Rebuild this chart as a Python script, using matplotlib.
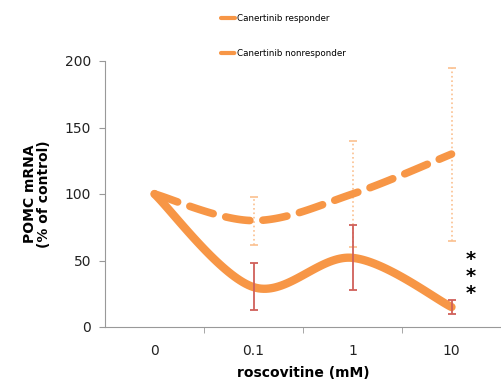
import matplotlib
matplotlib.use("Agg")
import matplotlib.pyplot as plt
import numpy as np

# datos
categorias = ["0", "0.1", "1", "10"]
respondedor = [100, 30, 52, 15]
resp_err_inf = [0, 17, 24, 5]
resp_err_sup = [0, 18, 25, 5]
no_respondedor = [100, 80, 100, 130]
nores_err = [0, 18, 40, 65]


def suavizar(y, n=40):
    # curva suavizada tipo Excel (Catmull-Rom) entre los puntos
    x = np.arange(len(y), dtype=float)
    p = np.column_stack([x, np.array(y, dtype=float)])
    p = np.vstack([p[0], p, p[-1]])
    xs, ys = [], []
    t = np.linspace(0, 1, n)
    for i in range(1, len(p) - 2):
        p0, p1, p2, p3 = p[i - 1], p[i], p[i + 1], p[i + 2]
        c1 = p1 + (p2 - p0) / 6
        c2 = p2 - (p3 - p1) / 6
        b = ((1 - t) ** 3)[:, None] * p1 + (3 * (1 - t) ** 2 * t)[:, None] * c1 \
            + (3 * (1 - t) * t ** 2)[:, None] * c2 + (t ** 3)[:, None] * p2
        xs.extend(b[:, 0])
        ys.extend(b[:, 1])
    return np.array(xs), np.array(ys)


naranja = "#F79646"
fig = plt.figure(figsize=(5.01, 3.85), dpi=100)
ax = fig.add_axes([105 / 501, 1 - 327 / 385, 396 / 501, 266 / 385])

x = np.arange(len(categorias))

# barras de error del no respondedor (punteadas)
eb = ax.errorbar(x[1:], no_respondedor[1:], yerr=nores_err[1:], fmt="none",
                 ecolor="#FBC08F", elinewidth=1.2, capsize=3, capthick=1.2)
eb[2][0].set_linestyle(":")

xs, ys = suavizar(no_respondedor)
linea_nr, = ax.plot(xs, ys, color=naranja, lw=5.5, ls=(0, (3.2, 1.7)),
                    solid_capstyle="round", dash_capstyle="round", zorder=3)

xs, ys = suavizar(respondedor)
linea_r, = ax.plot(xs, ys, color=naranja, lw=6, solid_capstyle="round", zorder=3)

ax.errorbar(x[1:], respondedor[1:], yerr=[resp_err_inf[1:], resp_err_sup[1:]],
            fmt="none", ecolor="#D0605A", elinewidth=1.3, capsize=3, capthick=1.3,
            zorder=4)

ax.text(3.19, 58, "*\n*\n*", ha="center", va="top", fontsize=14, linespacing=0.88,
        color="black", fontweight="bold")

ax.set_xlim(-0.5, 3.5)
ax.set_ylim(0, 200)
ax.set_yticks([0, 50, 100, 150, 200])
ax.set_xticks(x)
ax.set_xticklabels(categorias)
ax.set_xticks([0.5, 1.5, 2.5], minor=True)
ax.tick_params(axis="x", which="major", length=0, pad=12, labelsize=10, colors="#222222")
ax.tick_params(axis="x", which="minor", length=4, direction="out", color="#999999")
ax.tick_params(axis="y", length=4, direction="out", color="#999999", labelsize=10,
               labelcolor="#222222", pad=6)
for s in ["top", "right"]:
    ax.spines[s].set_visible(False)
for s in ["left", "bottom"]:
    ax.spines[s].set_color("#999999")

ax.set_xlabel("roscovitine (mM)", fontsize=10, fontweight="bold", labelpad=6)
ax.set_ylabel("POMC mRNA\n(% of control)", fontsize=10, fontweight="bold", labelpad=10,
              linespacing=1.0)

# leyenda arriba
leg = fig.legend(handles=[linea_r, linea_nr],
                 labels=["Canertinib responder", "Canertinib nonresponder"],
                 loc="upper left", bbox_to_anchor=(213 / 501, 0.985), frameon=False,
                 fontsize=6.3, handlelength=1.6, labelspacing=3.05, handletextpad=0.2)
for h in leg.legend_handles:
    h.set_linewidth(3)

fig.savefig("out.png", dpi=100)
